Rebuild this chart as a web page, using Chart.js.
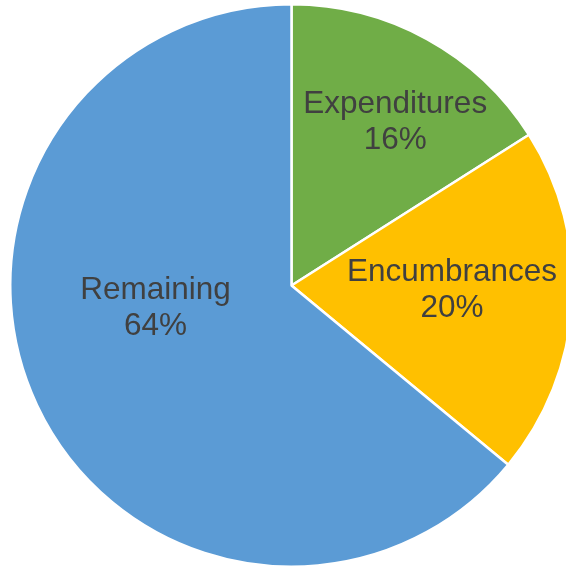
<!DOCTYPE html>
<html>
<head>
<meta charset="utf-8">
<script src="https://cdn.jsdelivr.net/npm/chart.js@4"></script>
<style>
  html, body { margin: 0; padding: 0; width: 566px; height: 566px; overflow: hidden; background: #ffffff; }
  #wrap { position: absolute; left: 9px; top: 3px; width: 565px; height: 565px; }
</style>
</head>
<body>
<div id="wrap"><canvas id="c"></canvas></div>
<script>
const categories = ["Expenditures", "Encumbrances", "Remaining"];
const percentValues = [16, 20, 64];
const sliceColors = ["#70AD47", "#FFC000", "#5B9BD5"];

// label placement (fraction of radius, angular offset in degrees from slice middle)
const labelRadiusFraction = [0.690, 0.571, 0.490];
const labelAngleOffsetDeg = [3.5, -2.2, 16];

const labelPlugin = {
  id: 'sliceLabels',
  afterDatasetsDraw(chart) {
    const ctx = chart.ctx;
    const meta = chart.getDatasetMeta(0);
    ctx.save();
    ctx.font = '31.5px "Liberation Sans", Arial, sans-serif';
    ctx.fillStyle = '#404040';
    ctx.textAlign = 'center';
    ctx.textBaseline = 'middle';
    meta.data.forEach((arc, i) => {
      const p = arc.getProps(['x', 'y', 'startAngle', 'endAngle', 'outerRadius'], true);
      const mid = (p.startAngle + p.endAngle) / 2 + labelAngleOffsetDeg[i] * Math.PI / 180;
      const r = p.outerRadius * labelRadiusFraction[i];
      const x = p.x + Math.cos(mid) * r;
      const y = p.y + Math.sin(mid) * r;
      ctx.fillText(categories[i], x, y - 17.5);
      ctx.fillText(percentValues[i] + '%', x, y + 18.5);
    });
    ctx.restore();
  }
};

new Chart(document.getElementById('c'), {
  type: 'pie',
  data: {
    labels: categories,
    datasets: [{
      data: percentValues,
      backgroundColor: sliceColors,
      borderColor: '#ffffff',
      borderWidth: 2.5
    }]
  },
  options: {
    responsive: true,
    maintainAspectRatio: false,
    animation: false,
    layout: { padding: 0 },
    plugins: {
      legend: { display: false },
      tooltip: { enabled: false }
    }
  },
  plugins: [labelPlugin]
});
</script>
</body>
</html>
